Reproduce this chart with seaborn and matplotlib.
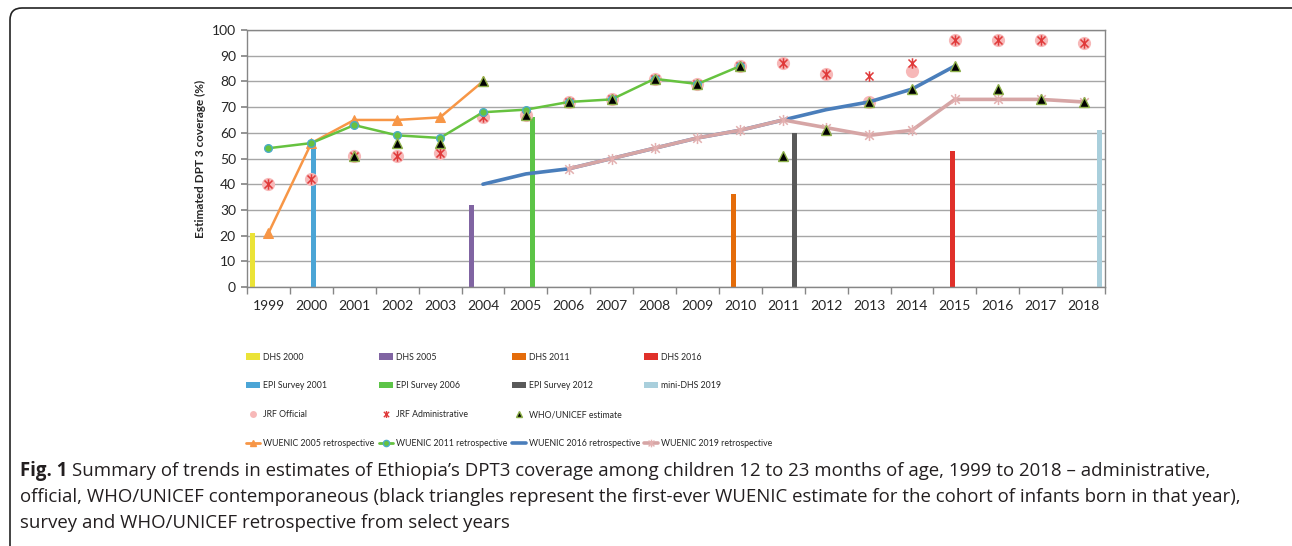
import numpy as np
import pandas as pd
import matplotlib.pyplot as plt
from matplotlib.patches import Patch, FancyBboxPatch
from matplotlib.lines import Line2D
from matplotlib.path import Path
import seaborn as sns


# ---------------------------------------------------------------------------
# Data
# ---------------------------------------------------------------------------

years = list(range(1999, 2019))
year_labels = [str(y) for y in years]

survey_names = ["DHS 2000", "DHS 2005", "DHS 2011", "DHS 2016",
                "EPI Survey 2001", "EPI Survey 2006", "EPI Survey 2012", "mini-DHS 2019"]
survey_years = [1999, 2004, 2010, 2015, 2000, 2005, 2011, 2018]
survey_values = [21, 32, 36, 53, 56, 66, 60, 61]
survey_colors = ["#ebe337", "#8064a2", "#e46c0a", "#e0302a",
                 "#4ba5d6", "#5cc447", "#595959", "#a9cfdc"]

jrf_official = [40, 42, 51, 51, 52, 66, 67, 72, 73, 81, 79, 86, 87, 83, 72, 84, 96, 96, 96, 95]
jrf_admin = [40, 42, 51, 51, 52, 66, 67, 72, 73, 81, 79, 86, 87, 83, 82, 87, 96, 96, 96, 95]
who_unicef = [np.nan, np.nan, 51, 56, 56, 80, 67, 72, 73, 81, 79, 86, 51, 61, 72, 77, 86, 77, 73, 72]

wuenic_2005_start, wuenic_2005 = 1999, [21, 56, 65, 65, 66, 80]
wuenic_2011_start, wuenic_2011 = 1999, [54, 56, 63, 59, 58, 68, 69, 72, 73, 81, 79, 86]
wuenic_2016_start, wuenic_2016 = 2004, [40, 44, 46, 50, 54, 58, 61, 65, 69, 72, 77, 86]
wuenic_2019_start, wuenic_2019 = 2006, [46, 50, 54, 58, 61, 65, 62, 59, 61, 73, 73, 73, 72]

caption_lines = [
    "Summary of trends in estimates of Ethiopia\u2019s DPT3 coverage among children 12 to 23 months of age, 1999 to 2018 \u2013 administrative,",
    "official, WHO/UNICEF contemporaneous (black triangles represent the first-ever WUENIC estimate for the cohort of infants born in that year),",
    "survey and WHO/UNICEF retrospective from select years",
]


def year_pos(start, n):
    i0 = years.index(start)
    return np.arange(i0, i0 + n)


# asterisk marker like the spreadsheet one: an X plus a vertical stroke
ast = Path([(-1, -1), (1, 1), (-1, 1), (1, -1), (0, -1.3), (0, 1.3)],
           [Path.MOVETO, Path.LINETO] * 3)

sns.set_theme(style="white")
plt.rcParams['font.family'] = ['Lato', 'DejaVu Sans']

W, H = 1292, 546
fig = plt.figure(figsize=(W / 100, H / 100), dpi=100)
ax = fig.add_axes([247 / W, 1 - 287 / H, (1105 - 247) / W, (287 - 30) / H])

# survey bars: one dodge slot per survey, as in a clustered column chart
bars_df = pd.DataFrame({"year": [str(y) for y in survey_years],
                        "survey": survey_names, "coverage": survey_values})
sns.barplot(data=bars_df, x="year", y="coverage", hue="survey",
            order=year_labels, hue_order=survey_names, dodge=True,
            palette=dict(zip(survey_names, survey_colors)), saturation=1,
            width=0.85, errorbar=None, legend=False, linewidth=0, ax=ax, zorder=2)

idx = np.arange(len(years))
ax.plot(idx, jrf_official, ls="none", marker="o", ms=9.5, mfc="#f7b8b8",
        mec="none", zorder=3)
ax.plot(idx, jrf_admin, ls="none", marker=ast, ms=7.5, mfc="none",
        mec="#e03a3a", mew=1.1, zorder=3.5)

sns.lineplot(x=year_pos(wuenic_2016_start, len(wuenic_2016)), y=wuenic_2016,
             color="#4a7ebb", linewidth=2.6, ax=ax, zorder=4)
sns.lineplot(x=year_pos(wuenic_2019_start, len(wuenic_2019)), y=wuenic_2019,
             color="#d6a5a5", linewidth=2.6, marker=ast, markersize=8,
             markerfacecolor="none", markeredgecolor="#e3b0b0", markeredgewidth=1.1,
             ax=ax, zorder=4)
sns.lineplot(x=year_pos(wuenic_2005_start, len(wuenic_2005)), y=wuenic_2005,
             color="#f79646", linewidth=1.8, marker="^", markersize=6.5,
             markeredgecolor="#f79646", ax=ax, zorder=5)
sns.lineplot(x=year_pos(wuenic_2011_start, len(wuenic_2011)), y=wuenic_2011,
             color="#66c23f", linewidth=1.8, marker="o", markersize=5.5,
             markeredgecolor="#4bacc6", markeredgewidth=1, ax=ax, zorder=5)

ax.plot(idx, who_unicef, ls="none", marker="^", ms=7.5, mfc="black",
        mec="#8db04a", mew=1, zorder=6)

# axes styling
ax.set_xlim(-0.5, len(years) - 0.5)
ax.set_ylim(0, 100)
ax.set_yticks(np.arange(0, 101, 10))
ax.set_xticks(idx)
ax.set_xticklabels(year_labels)
ax.set_xticks(np.arange(-0.5, len(years), 1), minor=True)
ax.set_xlabel("")
ax.set_ylabel("Estimated DPT 3 coverage (%)", fontsize=8.5, fontweight="bold", labelpad=4)
ax.yaxis.grid(True, color="#a6a6a6", linewidth=1)
ax.set_axisbelow(True)
for s in ax.spines.values():
    s.set_color("#868686")
    s.set_linewidth(1)
ax.tick_params(axis="x", which="major", bottom=True, length=0, pad=9, labelsize=10)
ax.tick_params(axis="x", which="minor", bottom=True, length=5, color="#868686")
ax.tick_params(axis="y", left=True, length=4, color="#868686", pad=4, labelsize=10)

# legend: four columns, laid out row by row like the original
bar_h = [Patch(facecolor=c, edgecolor="none", label=n) for n, c in zip(survey_names, survey_colors)]
off_h = Line2D([], [], ls="none", marker="o", ms=5, mfc="#f7b8b8", mec="none", label="JRF Official")
adm_h = Line2D([], [], ls="none", marker=ast, ms=5, mfc="none", mec="#e03a3a", mew=1,
               label="JRF Administrative")
who_h = Line2D([], [], ls="none", marker="^", ms=5, mfc="black", mec="#8db04a",
               label="WHO/UNICEF estimate")
blank_h = Line2D([], [], ls="none", label="")
w05_h = Line2D([], [], color="#f79646", lw=2, marker="^", ms=4.5, label="WUENIC 2005 retrospective")
w11_h = Line2D([], [], color="#66c23f", lw=2, marker="o", ms=4.5, mec="#4bacc6",
               label="WUENIC 2011 retrospective")
w16_h = Line2D([], [], color="#4a7ebb", lw=2.6, label="WUENIC 2016 retrospective")
w19_h = Line2D([], [], color="#d6a5a5", lw=2.6, marker=ast, ms=5.5, mfc="none",
               mec="#e3b0b0", label="WUENIC 2019 retrospective")

columns = [
    [bar_h[0], bar_h[4], off_h, w05_h],
    [bar_h[1], bar_h[5], adm_h, w11_h],
    [bar_h[2], bar_h[6], who_h, w16_h],
    [bar_h[3], bar_h[7], blank_h, w19_h],
]
col_x = [246, 379, 512, 644]
for cx, handles in zip(col_x, columns):
    fig.legend(handles=handles, labels=[h.get_label() for h in handles],
               loc="upper left", bbox_to_anchor=(cx / W, 1 - 352.5 / H),
               frameon=False, fontsize=6.3, borderpad=0, borderaxespad=0,
               handlelength=1.55, handletextpad=0.35, labelspacing=2.28)

# caption with bold lead
cap_font = dict(family=["Open Sans", "DejaVu Sans"], fontsize=13.4, color="#231f20", va="center")
lead = fig.text(20 / W, 1 - 471 / H, "Fig. 1", fontweight="bold", **cap_font)
fig.canvas.draw()
bb = lead.get_window_extent()
fig.text((bb.x1 + 5) / W, 1 - 471 / H, caption_lines[0], **cap_font)
fig.text(20 / W, 1 - 497 / H, caption_lines[1], **cap_font)
fig.text(20 / W, 1 - 523 / H, caption_lines[2], **cap_font)

# rounded panel border
frame = FancyBboxPatch((10, -20), W + 20, H - 8 + 20,
                       boxstyle="round,pad=0,rounding_size=12",
                       transform=None, fill=False, edgecolor="#222222", linewidth=1.2)
fig.patches.append(frame)

fig.savefig("out.png", dpi=100)
